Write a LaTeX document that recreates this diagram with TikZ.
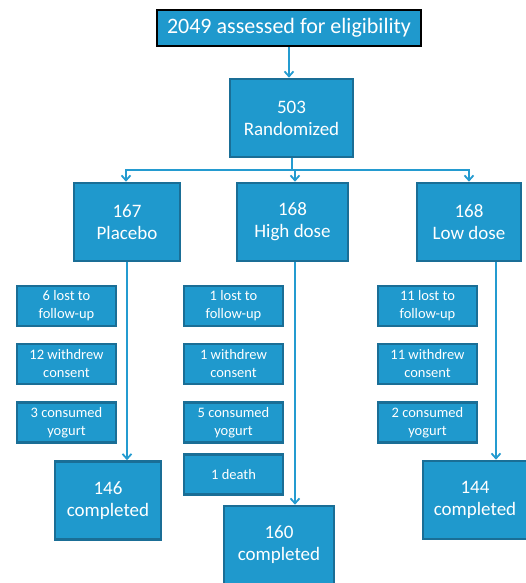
\documentclass[tikz,border=0pt]{standalone}
\usepackage{fontspec}
\setmainfont{Carlito}
\usetikzlibrary{arrows.meta}
\definecolor{boxfill}{RGB}{31,153,205}
\definecolor{boxline}{RGB}{26,110,150}
\definecolor{wire}{RGB}{36,155,208}
\begin{document}
\begin{tikzpicture}[
        x=1pt, y=-1pt,
        stage/.style={rectangle, draw=boxline, line width=2.6pt, fill=boxfill, text=white,
                      inner sep=0pt, minimum height=78pt, align=center,
                      font=\fontsize{19}{22}\selectfont},
        reason/.style={rectangle, draw=boxline, line width=2.2pt, fill=boxfill, text=white,
                       inner sep=0pt, minimum width=99pt, minimum height=40pt, align=center,
                       font=\fontsize{14.5}{18}\selectfont},
        header/.style={rectangle, draw=black, line width=2.8pt, fill=boxfill, text=white,
                       inner sep=0pt, minimum width=264pt, minimum height=36pt,
                       font=\fontsize{22}{26}\selectfont},
        wire/.style={draw=wire, line width=1.8pt},
        flow/.style={wire, -{Straight Barb[length=5pt, width=9pt]}}
        ]
      \useasboundingbox (0,0) rectangle (525,583);

      \node[header] (elig) at (289,28) {2049 assessed for eligibility};
      \node[stage, minimum width=123pt] (rand) at (291.5,118) {503\\Randomized};

      \node[stage, minimum width=106pt] (plac) at (127,222) {167\\Placebo};
      \node[stage, minimum width=111pt] (high) at (292.5,222) {168\\High dose};
      \node[stage, minimum width=104pt] (low) at (469,222) {168\\Low dose};

      % withdrawals, placebo arm
      \node[reason] (plost) at (66.5,306) {6 lost to\\follow-up};
      \node[reason] (pcons) at (66.5,364) {12 withdrew\\consent};
      \node[reason] (pyog) at (66.5,422.5) {3 consumed\\yogurt};
      % withdrawals, high dose arm
      \node[reason] (hlost) at (233.5,306) {1 lost to\\follow-up};
      \node[reason] (hcons) at (233.5,364) {1 withdrew\\consent};
      \node[reason] (hyog) at (233.5,422.5) {5 consumed\\yogurt};
      \node[reason] (hdeath) at (233.5,474.5) {1 death};
      % withdrawals, low dose arm
      \node[reason] (llost) at (427.5,306) {11 lost to\\follow-up};
      \node[reason] (lcons) at (427.5,364) {11 withdrew\\consent};
      \node[reason] (lyog) at (427.5,422.5) {2 consumed\\yogurt};

      \node[stage, minimum width=106pt] (pdone) at (108,500.5) {146\\completed};
      \node[stage, minimum width=110pt] (hdone) at (279,545) {160\\completed};
      \node[stage, minimum width=104pt] (ldone) at (475,500) {144\\completed};

      \draw[flow] (elig.south) -- (elig.south |- rand.north);
      \coordinate (bus) at (292,170);
      \draw[wire] (rand.south -| bus) -- (bus);
      \draw[flow] (bus) -| ([xshift=-1pt]plac.north);
      \draw[flow] (bus) -| (low.north);
      \draw[flow] ([xshift=2.5pt]bus -| high.north) -- ([xshift=2.5pt]high.north);

      \draw[flow] (plac.south) -- (plac.south |- pdone.north);
      \draw[flow] ([xshift=2.5pt]high.south) -- ([xshift=2.5pt]high.south |- hdone.north);
      \draw[flow] ([xshift=27pt]low.south) -- ([xshift=27pt]low.south |- ldone.north);

    \end{tikzpicture}
\end{document}
